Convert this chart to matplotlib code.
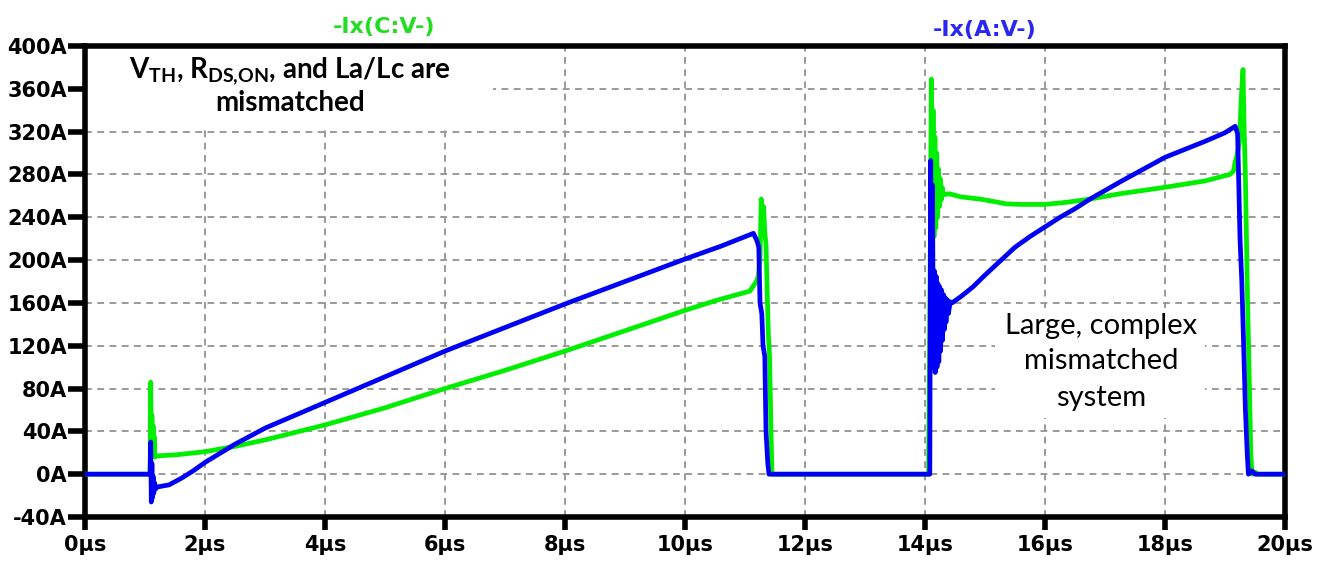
import matplotlib
matplotlib.use("Agg")
import matplotlib.pyplot as plt
from matplotlib.patches import Rectangle

# Time axis in microseconds, currents in amperes
t_c = [0.0, 1.085, 1.09, 1.095, 1.105, 1.115, 1.125, 1.135, 1.145, 1.155, 1.165, 1.18,
       1.5, 2.0, 2.5, 3.0, 3.5, 4.0, 5.0, 6.0, 7.0, 8.0, 9.0, 10.0, 10.5, 11.08,
       11.19, 11.22, 11.25, 11.27, 11.29, 11.31, 11.33, 11.35, 11.37, 11.39, 11.41, 11.43,
       11.45, 11.55, 14.06, 14.09, 14.105, 14.12, 14.135, 14.15, 14.165, 14.18, 14.195,
       14.21, 14.225, 14.24, 14.255, 14.27, 14.285, 14.3, 14.4, 14.6, 14.92, 15.36, 15.6,
       16.0, 16.36, 16.75, 17.25, 18.0, 18.67, 19.08, 19.14, 19.17, 19.2, 19.24, 19.27,
       19.3, 19.32, 19.34, 19.37, 19.4, 19.43, 19.45, 19.5, 19.55, 20.0]
i_c = [0, 0, 40, 86, 20, 55, 18, 45, 17, 35, 16, 17,
       18, 21, 26, 32, 39, 46, 62, 80, 97, 115, 134, 153, 162, 171,
       180, 185, 200, 257, 235, 250, 225, 215, 170, 130, 110, 50,
       0, 0, 0, 230, 369, 225, 340, 222, 315, 230, 300,
       240, 285, 250, 276, 256, 268, 261, 262, 259, 257, 252.5, 252,
       252, 254, 257, 262, 268, 274, 280, 283, 292, 298, 310, 350,
       378, 320, 280, 180, 100, 20, 0, 2, 0, 0]

t_a = [0.0, 1.085, 1.095, 1.105, 1.115, 1.125, 1.135, 1.145, 1.16, 1.175, 1.2, 1.4,
       1.6, 1.8, 2.0, 2.5, 3.0, 3.5, 4.0, 5.0, 6.0, 7.0, 8.0, 9.0, 10.0, 10.6, 11.14,
       11.2, 11.23, 11.25, 11.28, 11.3, 11.33, 11.35, 11.38, 11.4, 11.5, 14.08, 14.095,
       14.11, 14.125, 14.14, 14.155, 14.17, 14.185, 14.2, 14.215, 14.23, 14.245, 14.26,
       14.275, 14.29, 14.305, 14.32, 14.335, 14.35, 14.37, 14.39, 14.42, 14.45, 14.6,
       14.8, 15.0, 15.25, 15.5, 15.75, 16.0, 16.25, 16.5, 16.75, 17.25, 18.0, 18.67,
       19.0, 19.17, 19.21, 19.23, 19.25, 19.28, 19.31, 19.34, 19.37, 19.39, 19.45, 19.5,
       20.0]
i_a = [0, 0, 30, -26, 10, -22, -2, -18, -8, -14, -12, -10,
       -4, 3, 11, 28, 43, 55, 67, 91, 115, 137, 159, 180, 201, 213, 225,
       218, 212, 160, 150, 120, 110, 40, 10, 0, 0, 0, 293,
       110, 270, 100, 190, 95, 185, 100, 178, 105, 175, 115,
       172, 125, 168, 135, 165, 142, 163, 150, 161, 160, 166,
       175, 186, 199, 212, 222, 231, 240, 248, 257, 273, 296, 311,
       319, 325, 318, 270, 220, 180, 122, 60, 20, 0, 3, 0,
       0]

x_ticks = [0, 2, 4, 6, 8, 10, 12, 14, 16, 18, 20]
y_ticks = [-40, 0, 40, 80, 120, 160, 200, 240, 280, 320, 360, 400]
x_labels = [f"{v}\u00b5s" for v in x_ticks]
y_labels = [f"{v}A" for v in y_ticks]

series_c = "-Ix(C:V-)"
series_a = "-Ix(A:V-)"
note_top = [r"V$_{\mathrm{TH}}$, R$_{\mathrm{DS{,}ON}}$, and La/Lc are", "mismatched"]
note_right = ["Large, complex", "mismatched", "system"]

GREEN = "#00EE00"
BLUE = "#0000F5"

plt.rcParams["mathtext.fontset"] = "custom"
plt.rcParams["mathtext.rm"] = "Lato:bold"
plt.rcParams["mathtext.it"] = "Lato:bold"
plt.rcParams["mathtext.bf"] = "Lato:bold"

tick_font = ["Liberation Sans Narrow", "DejaVu Sans"]

fig = plt.figure(figsize=(13.19, 5.65), dpi=100)
ax = fig.add_axes([85 / 1319, 48 / 565, 1200 / 1319, 471 / 565])

ax.set_xlim(0, 20)
ax.set_ylim(-40, 400)
ax.set_xticks(x_ticks)
ax.set_yticks(y_ticks)
ax.set_xticklabels(x_labels, fontfamily=tick_font, fontweight="bold", fontsize=15)
ax.set_yticklabels(y_labels, fontfamily=tick_font, fontweight="bold", fontsize=15)

ax.set_axisbelow(True)
ax.grid(True, color="#9a9a9a", linestyle=(0, (3.5, 2.8)), linewidth=1.4)

for sp in ax.spines.values():
    sp.set_linewidth(4)
    sp.set_color("black")
ax.tick_params(axis="x", direction="out", length=9, width=4, pad=4, colors="black")
ax.tick_params(axis="y", direction="out", length=12, width=4, pad=1, colors="black")

# White label boxes hide the grid behind the annotations
ax.add_patch(Rectangle((0.0, 0.832), 0.34, 0.168, transform=ax.transAxes,
                       facecolor="white", edgecolor="none", zorder=1))
ax.add_patch(Rectangle((0.758, 0.21), 0.175, 0.234, transform=ax.transAxes,
                       facecolor="white", edgecolor="none", zorder=1))

ax.plot(t_c, i_c, color=GREEN, linewidth=3.4, solid_joinstyle="round", zorder=3)
ax.plot(t_a, i_a, color=BLUE, linewidth=3.4, solid_joinstyle="round", zorder=4)

for txt, yy in zip(note_top, [0.947, 0.879]):
    ax.text(0.171, yy, txt, transform=ax.transAxes, ha="center", va="center",
            fontfamily="Lato", fontweight="bold", fontsize=20, zorder=5)
for txt, yy in zip(note_right, [0.4055, 0.331, 0.2527]):
    ax.text(0.847, yy, txt, transform=ax.transAxes, ha="center", va="center",
            fontfamily="Lato", fontsize=21, zorder=5)

fig.text(384 / 1319, 1 - 27 / 565, series_c, color="#22DD22", ha="center", va="center",
         fontfamily=tick_font, fontweight="bold", fontsize=16)
fig.text(985 / 1319, 1 - 30 / 565, series_a, color="#2828F0", ha="center", va="center",
         fontfamily=tick_font, fontweight="bold", fontsize=16)

fig.savefig("out.png", dpi=100, facecolor="white")
